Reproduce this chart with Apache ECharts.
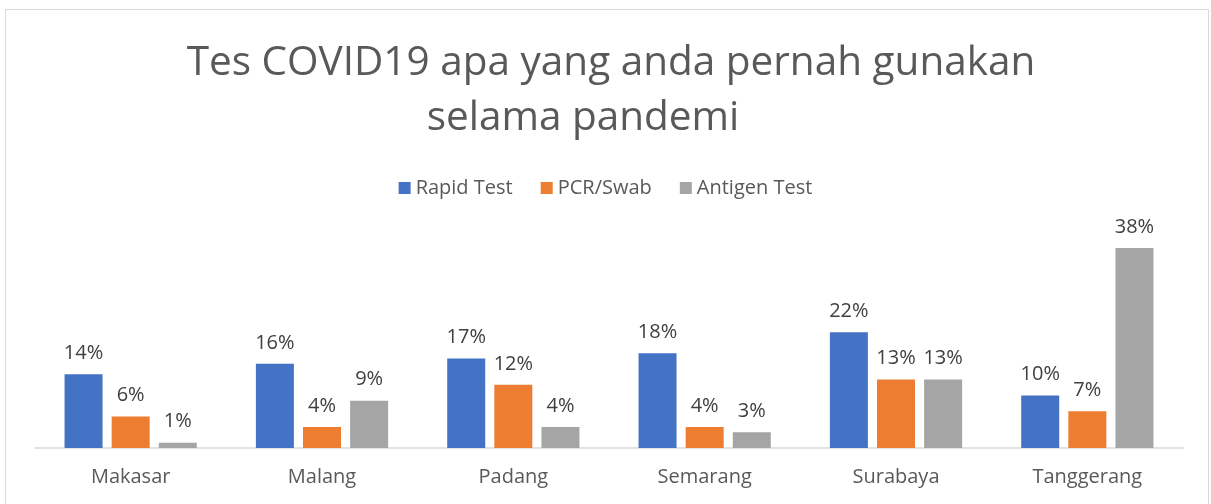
<!DOCTYPE html>
<html><head><meta charset="utf-8">
<script src="https://cdn.jsdelivr.net/npm/echarts@6/dist/echarts.min.js"></script>
<style>
html,body{margin:0;padding:0;background:#fff;}
#frame{position:absolute;left:5px;top:9px;width:1204px;height:520px;border:1px solid #d9d9d9;box-sizing:border-box;}
#c{position:absolute;left:0;top:0;width:1211px;height:504px;}
</style></head>
<body>
<div id="frame"></div>
<div id="c"></div>
<script>
const categories = ['Makasar','Malang','Padang','Semarang','Surabaya','Tanggerang'];
const rapidTest = [14,16,17,18,22,10];
const pcrSwab = [6,4,12,4,13,7];
const antigenTest = [1,9,4,3,13,38];
const seriesNames = ['Rapid Test','PCR/Swab','Antigen Test'];
const colors = ['#4472c4','#ed7d31','#a5a5a5'];

const FONT = 'Open Sans';
const chart = echarts.init(document.getElementById('c'), null, {renderer:'canvas'});
const mk = (name, data, color) => ({
  name, type:'bar', data, barWidth:38, barGap:'24%',
  itemStyle:{color},
  label:{show:true, position:'top', distance:11, formatter:'{c}%', fontFamily:FONT, fontSize:20, color:'#404040'}
});
chart.setOption({
  animation:false,
  backgroundColor:'transparent',
  title:[
    {text:'Tes COVID19 apa yang anda pernah gunakan', left:606, top:38, textAlign:'center',
     textStyle:{fontFamily:FONT, fontSize:40.5, fontWeight:'normal', color:'#595959'}},
    {text:'selama pandemi', left:578, top:93, textAlign:'center',
     textStyle:{fontFamily:FONT, fontSize:40.5, fontWeight:'normal', color:'#595959'}}
  ],
  legend:{data:seriesNames, top:173, left:'center', itemWidth:12, itemHeight:12, itemGap:28, icon:'rect',
    textStyle:{fontFamily:FONT, fontSize:20, color:'#595959'}},
  grid:{left:35, right:28, top:237.5, bottom:56},
  xAxis:{type:'category', data:categories,
    axisLine:{lineStyle:{color:'#d9d9d9', width:1.5}}, axisTick:{show:false},
    axisLabel:{fontFamily:FONT, fontSize:20, color:'#595959', margin:19}},
  yAxis:{type:'value', min:0, max:40, show:false, splitLine:{show:false}},
  series:[mk(seriesNames[0], rapidTest, colors[0]), mk(seriesNames[1], pcrSwab, colors[1]), mk(seriesNames[2], antigenTest, colors[2])]
});
</script>
</body></html>
